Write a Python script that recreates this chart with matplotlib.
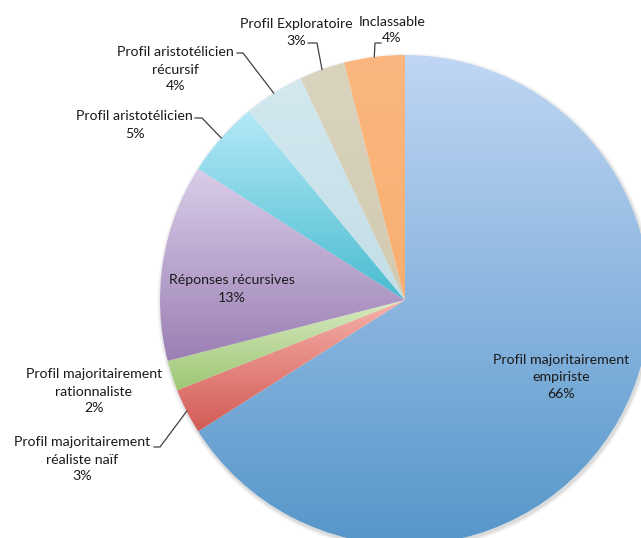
import numpy as np
import matplotlib
matplotlib.use("Agg")
import matplotlib.pyplot as plt
from matplotlib.colors import LinearSegmentedColormap
from matplotlib.patches import Circle

# Répartition des profils (en %)
labels = [
    "Profil majoritairement\nempiriste",
    "Profil majoritairement\nréaliste naïf",
    "Profil majoritairement\nrationnaliste",
    "Réponses récursives",
    "Profil aristotélicien",
    "Profil aristotélicien\nrécursif",
    "Profil Exploratoire",
    "Inclassable",
]
values = [66, 3, 2, 13, 5, 4, 3, 4]

# Dégradés verticaux (haut, bas) de chaque secteur
top_colors = ["#c0d6f4", "#f5b2aa", "#d9ebc2", "#dacde8",
              "#b5e9f8", "#d3e8ef", "#dad4bf", "#fbb77f"]
bottom_colors = ["#5696ca", "#d35b55", "#9dc673", "#9a7fb4",
                 "#48bccf", "#c3dee7", "#d2cab0", "#f9ae70"]

W, H = 641, 538
CX, CY, R = 405, H - 300, 245

fig = plt.figure(figsize=(W / 100, H / 100), dpi=100)
ax = fig.add_axes([0, 0, 1, 1])

# légère ombre autour du disque
for i, a in enumerate([0.05, 0.04, 0.03, 0.02]):
    ax.add_patch(Circle((CX + 1, CY - 2), R + 1 + i, color="black", alpha=a,
                        lw=0, zorder=0))

wedges, _ = ax.pie(values, startangle=90, counterclock=False, radius=R,
                   center=(CX, CY), wedgeprops=dict(linewidth=0))

for w, c0, c1 in zip(wedges, top_colors, bottom_colors):
    w.set_facecolor("white")
    w.set_zorder(1)
    v = w.get_path().vertices
    x0, x1 = v[:, 0].min(), v[:, 0].max()
    y0, y1 = v[:, 1].min(), v[:, 1].max()
    cmap = LinearSegmentedColormap.from_list("g", [c1, c0])
    grad = np.linspace(0, 1, 256).reshape(-1, 1)
    im = ax.imshow(grad, cmap=cmap, extent=(x0, x1, y0, y1), origin="lower",
                   aspect="auto", interpolation="bilinear", zorder=2)
    im.set_clip_path(w)

txt = dict(fontsize=10.2, family="Lato", color="#1a1a1a", ha="center",
           va="center", linespacing=1.5, zorder=5)


def label_text(i):
    return f"{labels[i]}\n{values[i]}%"


def edge_point(w):
    mid = np.deg2rad((w.theta1 + w.theta2) / 2)
    return CX + R * np.cos(mid), CY + R * np.sin(mid)


# étiquettes : (centre du texte, début du trait, coude)
placements = {
    0: ((561, 377), None, None),
    1: ((82, 459.5), (154, 447), (160, 447)),
    2: ((94, 391.5), None, None),
    3: ((232, 289), None, None),
    4: ((134.5, 125), (195, 118), (202, 118)),
    5: ((175.5, 69.5), (237, 53), (243, 53)),
    6: ((296, 32.5), (308, 43), (317, 43)),
    7: ((392, 30), (381, 43), (375, 43)),
}
for i, (pos, start, elbow) in placements.items():
    ax.text(pos[0], H - pos[1], label_text(i), **txt)
    if start is not None:
        ex, ey = edge_point(wedges[i])
        ax.plot([start[0], elbow[0], ex], [H - start[1], H - elbow[1], ey],
                color="#404040", lw=0.9, zorder=4, solid_joinstyle="miter")

ax.set_xlim(0, W)
ax.set_ylim(0, H)
ax.set_aspect("equal")
ax.axis("off")
fig.savefig("out.png", dpi=100)
